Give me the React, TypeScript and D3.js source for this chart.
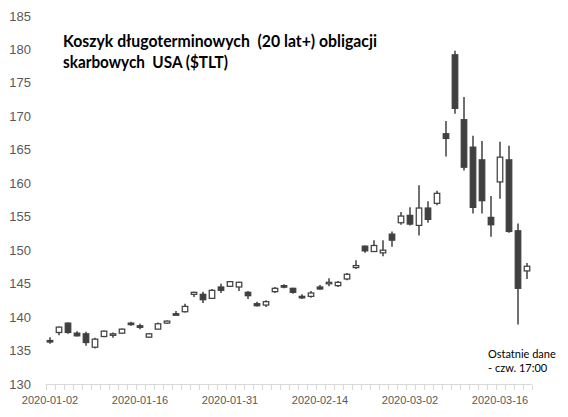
import React from "react";
import * as d3 from "d3";

const dates = [
  "2020-01-02","2020-01-03","2020-01-06","2020-01-07","2020-01-08","2020-01-09","2020-01-10",
  "2020-01-13","2020-01-14","2020-01-15","2020-01-16","2020-01-17","2020-01-21","2020-01-22",
  "2020-01-23","2020-01-24","2020-01-27","2020-01-28","2020-01-29","2020-01-30","2020-01-31",
  "2020-02-03","2020-02-04","2020-02-05","2020-02-06","2020-02-07","2020-02-10","2020-02-11",
  "2020-02-12","2020-02-13","2020-02-14","2020-02-18","2020-02-19","2020-02-20","2020-02-21",
  "2020-02-24","2020-02-25","2020-02-26","2020-02-27","2020-02-28","2020-03-02","2020-03-03",
  "2020-03-04","2020-03-05","2020-03-06","2020-03-09","2020-03-10","2020-03-11","2020-03-12",
  "2020-03-13","2020-03-16","2020-03-17","2020-03-18","2020-03-19"
];
const openV = [
  136.5,137.7,139.1,137.6,137.5,135.5,137.1,137.3,137.6,139.1,138.7,137.0,138.2,139.1,
  140.5,140.8,143.4,143.4,142.8,144.5,144.6,144.5,143.7,142.0,141.8,143.8,144.7,144.3,
  143.1,143.1,144.5,145.0,144.7,145.7,147.4,150.6,149.8,149.6,152.4,154.1,155.2,153.7,
  156.3,157.0,167.4,179.2,169.5,165.4,163.5,154.9,160.2,163.5,152.9,146.9
];
const highV = [
  137.0,138.6,139.2,137.9,137.8,136.9,138.0,137.7,138.3,139.3,139.0,137.6,139.2,139.5,
  140.9,142.0,143.8,143.8,144.2,145.0,145.4,145.3,143.9,142.3,142.5,144.5,144.9,144.4,
  143.4,143.9,144.8,145.8,145.4,146.6,148.5,150.7,151.5,151.5,152.8,155.7,156.4,159.7,
  157.3,158.9,169.3,179.8,172.9,167.1,166.3,158.1,166.2,165.6,154.0,148.1
];
const lowV = [
  136.0,137.3,137.5,137.1,135.7,135.3,137.0,136.9,137.5,138.7,138.2,136.9,138.2,139.0,
  140.3,140.7,143.0,142.1,142.7,143.6,144.5,143.9,142.7,141.6,141.5,143.6,144.3,143.5,
  142.7,142.9,144.1,144.6,144.5,145.5,147.2,149.6,149.8,149.1,150.5,153.8,153.7,152.2,
  154.1,156.7,164.0,170.4,161.9,155.5,155.5,152.0,157.7,152.6,138.9,145.7
];
const closeV = [
  136.3,138.5,137.7,137.2,136.2,136.7,137.9,137.5,138.2,139.0,138.6,137.5,139.0,139.4,
  140.3,141.6,143.7,142.6,144.0,144.0,145.3,145.2,143.2,141.7,142.3,144.3,144.5,143.7,
  143.0,143.6,144.2,145.2,145.2,146.4,147.7,149.9,150.7,150.0,151.5,155.1,153.9,156.3,
  154.6,158.5,166.7,171.2,162.4,156.4,157.4,153.8,163.9,152.8,144.3,147.6
];
const yTicks = [130,135,140,145,150,155,160,165,170,175,180,185];
const xLabelDates = ["2020-01-02","2020-01-16","2020-01-31","2020-02-14","2020-03-02","2020-03-16"];
const titleLines = ["Koszyk długoterminowych  (20 lat+) obligacji", "skarbowych  USA ($TLT)"];
const noteLines = ["Ostatnie dane", "- czw. 17:00"];

const W = 568, H = 417;
const dark = "#404040";
const labelColor = "#595959";
const axisColor = "#d9d9d9";

export default function App() {
  const x = d3.scaleBand<string>().domain(dates).range([45.5, 531.5]).padding(0);
  const y = d3.scaleLinear().domain([130, 185]).range([384, 16]);
  const bw = x.bandwidth();
  const bodyW = 5.5;
  const cx = (d: string) => (x(d) as number) + bw / 2;

  const candles = dates.map((d, i) => ({
    d, o: openV[i], h: highV[i], l: lowV[i], c: closeV[i],
  }));

  return (
    <svg width={W} height={H} style={{ position: "absolute", left: 0, top: 0, background: "#fff" }}
      fontFamily="'Liberation Sans', Arial, sans-serif">
      {/* y labels */}
      {yTicks.map(t => (
        <text key={t} x={31} y={y(t) + 4.5} textAnchor="end" fontSize={13} fill={labelColor}>{t}</text>
      ))}
      {/* x axis */}
      <line x1={45.5} x2={531.5} y1={384.5} y2={384.5} stroke={axisColor} strokeWidth={1} />
      {dates.concat(["__end"]).map((d, i) => {
        const xx = i < dates.length ? (x(d) as number) : 531.5;
        return <line key={"t" + i} x1={Math.round(xx) + 0.5} x2={Math.round(xx) + 0.5} y1={384.5} y2={390} stroke={axisColor} strokeWidth={1} />;
      })}
      {xLabelDates.map(d => (
        <text key={d} x={cx(d)} y={404} textAnchor="middle" fontSize={11} fill={labelColor}>{d}</text>
      ))}
      {/* candles */}
      {candles.map(k => {
        const up = k.c >= k.o;
        const top = y(Math.max(k.o, k.c));
        const bot = y(Math.min(k.o, k.c));
        const hgt = Math.max(bot - top, 1.5);
        const xc = cx(k.d);
        return (
          <g key={k.d}>
            <line x1={xc} x2={xc} y1={y(k.h)} y2={y(k.l)} stroke={dark} strokeWidth={1.5} />
            <rect x={xc - bodyW / 2} y={top} width={bodyW} height={hgt}
              fill={up ? "#ffffff" : dark} stroke={dark} strokeWidth={1.25} />
          </g>
        );
      })}
      {/* title */}
      <g fontFamily="Lato, 'Open Sans', sans-serif" fontWeight="bold" fontSize={17} fill="#000">
        <text x={63} y={46.5} style={{ whiteSpace: "pre" }} textLength={314} lengthAdjust="spacingAndGlyphs">{titleLines[0]}</text>
        <text x={63} y={68} style={{ whiteSpace: "pre" }} textLength={165} lengthAdjust="spacingAndGlyphs">{titleLines[1]}</text>
      </g>
      {/* note */}
      <g fontFamily="Lato, 'Open Sans', sans-serif" fontSize={11} fill="#000">
        <text x={488} y={358}>{noteLines[0]}</text>
        <text x={488} y={372}>{noteLines[1]}</text>
      </g>
    </svg>
  );
}
